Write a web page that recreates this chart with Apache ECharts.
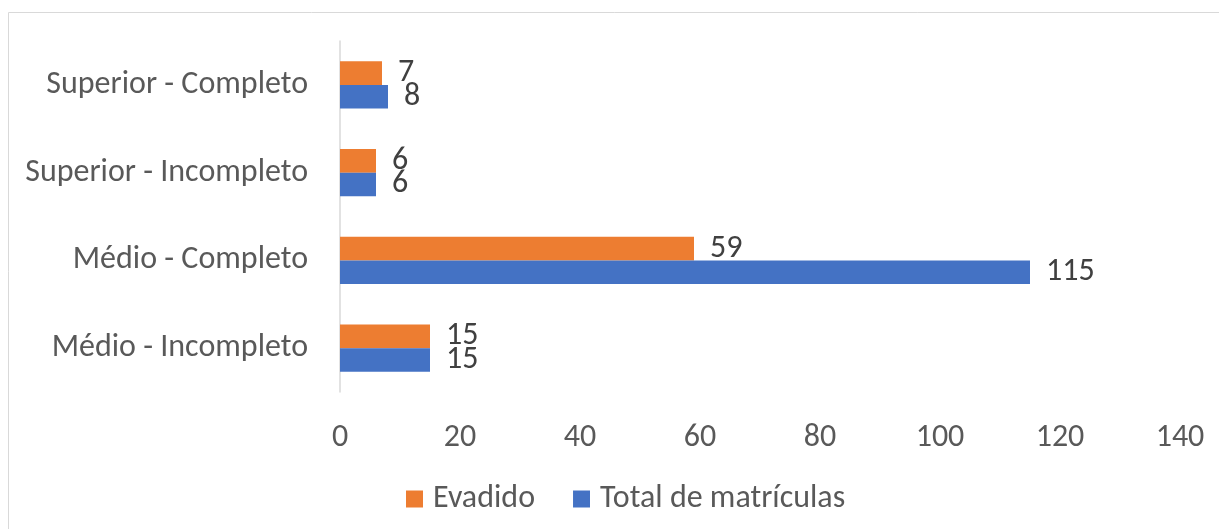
<!DOCTYPE html>
<html>
<head>
<meta charset="utf-8">
<script src="https://cdn.jsdelivr.net/npm/echarts@6/dist/echarts.min.js"></script>
<style>
  html, body { margin: 0; padding: 0; background: #fff; }
  #chart { width: 1219px; height: 529px; }
</style>
</head>
<body>
<div id="chart"></div>
<script>
// categories, bottom to top
var categorias = ['Médio - Incompleto', 'Médio - Completo', 'Superior - Incompleto', 'Superior - Completo'];
var evadido = [15, 59, 6, 7];
var totalMatriculas = [15, 115, 6, 8];
var ticksX = [0, 20, 40, 60, 80, 100, 120, 140];

var fonte = 'Carlito, Calibri, "Liberation Sans", sans-serif';

var chart = echarts.init(document.getElementById('chart'));

var option = {
  animation: false,
  textStyle: { fontFamily: fonte },
  graphic: [{
    type: 'rect',
    shape: { x: 8.5, y: 12.5, width: 1400, height: 700 },
    style: { fill: 'none', stroke: '#d9d9d9', lineWidth: 1 },
    silent: true
  }],
  grid: { left: 340, right: 39, top: 41, bottom: 137 },
  legend: {
    data: ['Evadido', 'Total de matrículas'],
    top: 478,
    left: 401,
    itemWidth: 17,
    itemHeight: 17,
    itemGap: 38,
    icon: 'rect',
    textStyle: { fontFamily: fonte, fontSize: 32, color: '#595959', padding: [0, 0, 0, 5] }
  },
  xAxis: {
    type: 'value',
    min: ticksX[0],
    max: ticksX[ticksX.length - 1],
    interval: 20,
    splitLine: { show: false },
    axisLine: { show: false },
    axisTick: { show: false },
    axisLabel: { margin: 30, fontSize: 32, color: '#595959', fontFamily: fonte }
  },
  yAxis: {
    type: 'category',
    data: categorias,
    axisLine: { show: true, lineStyle: { color: '#d9d9d9', width: 1.5 } },
    axisTick: { show: false },
    axisLabel: { margin: 32, fontSize: 32, color: '#595959', fontFamily: fonte, padding: [6, 0, 0, 0] }
  },
  series: [
    {
      name: 'Evadido',
      type: 'bar',
      data: evadido,
      itemStyle: { color: '#ed7d31' },
      barGap: '0%',
      barCategoryGap: '46%',
      label: { show: true, position: 'right', distance: 16, fontSize: 32, color: '#404040', fontFamily: fonte }
    },
    {
      name: 'Total de matrículas',
      type: 'bar',
      data: totalMatriculas,
      itemStyle: { color: '#4472c4' },
      barGap: '0%',
      barCategoryGap: '46%',
      label: { show: true, position: 'right', distance: 16, fontSize: 32, color: '#404040', fontFamily: fonte }
    }
  ]
};

chart.setOption(option);
</script>
</body>
</html>
